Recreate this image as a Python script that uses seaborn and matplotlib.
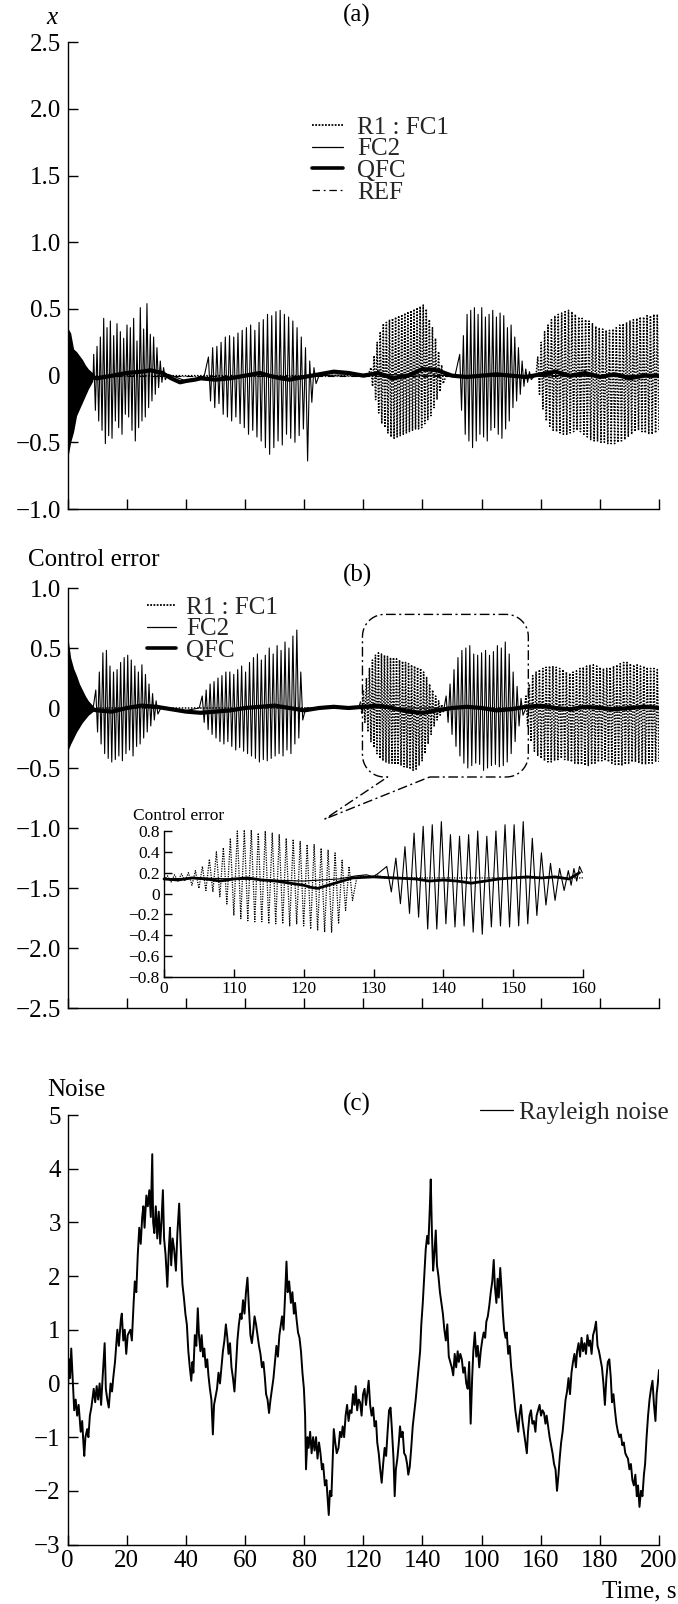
import numpy as np
import matplotlib
matplotlib.use("Agg")
import matplotlib.pyplot as plt
import seaborn as sns
from matplotlib.lines import Line2D

sns.set_theme(style="ticks")
plt.rcParams["font.family"] = ["Liberation Serif", "DejaVu Serif"]
plt.rcParams["mathtext.fontset"] = "stix"

# ---------------- data: panel (a) displacement x ----------------
a_trans_t = [0, 1, 2, 3, 4, 5, 6, 7, 8.5]
a_trans_up = [0.36, 0.32, 0.2, 0.18, 0.15, 0.12, 0.08, 0.05, 0.02]
a_trans_lo = [-0.62, -0.5, -0.42, -0.3, -0.25, -0.2, -0.15, -0.1, -0.04]

a_fc2_b1_up = [0.16, 0.22, 0.29, 0.43, 0.36, 0.41, 0.3, 0.39, 0.33, 0.28, 0.38, 0.36, 0.43, 0.26, 0.51, 0.35, 0.54, 0.31, 0.29, 0.21, 0.11, 0.06]
a_fc2_b1_lo = [-0.26, -0.34, -0.41, -0.51, -0.45, -0.47, -0.34, -0.39, -0.44, -0.29, -0.31, -0.41, -0.49, -0.39, -0.34, -0.31, -0.24, -0.19, -0.14, -0.09, -0.05, -0.03]
a_fc2_b2_up = [0.14, 0.21, 0.22, 0.25, 0.29, 0.30, 0.29, 0.32, 0.34, 0.36, 0.38, 0.34, 0.40, 0.42, 0.46, 0.45, 0.48, 0.49, 0.46, 0.44, 0.41, 0.36, 0.29, 0.21, 0.11, 0.06]
a_fc2_b2_lo = [-0.19, -0.24, -0.21, -0.29, -0.31, -0.34, -0.31, -0.36, -0.39, -0.44, -0.41, -0.46, -0.49, -0.54, -0.59, -0.54, -0.49, -0.52, -0.44, -0.47, -0.50, -0.45, -0.40, -0.64, -0.20, -0.06]
a_fc2_b3_up = [0.16, 0.30, 0.46, 0.49, 0.51, 0.46, 0.51, 0.44, 0.46, 0.49, 0.44, 0.47, 0.45, 0.36, 0.38, 0.29, 0.21, 0.11, 0.05, 0.03]
a_fc2_b3_lo = [-0.26, -0.44, -0.49, -0.54, -0.49, -0.44, -0.46, -0.49, -0.41, -0.39, -0.44, -0.47, -0.40, -0.34, -0.24, -0.19, -0.14, -0.08, -0.05, -0.03]
a_fc1_b1_up = [0.06, 0.15, 0.25, 0.33, 0.39, 0.40, 0.42, 0.43, 0.44, 0.45, 0.46, 0.47, 0.48, 0.49, 0.50, 0.51, 0.52, 0.53, 0.50, 0.42, 0.36, 0.28, 0.18, 0.08]
a_fc1_b1_lo = [-0.08, -0.18, -0.28, -0.36, -0.39, -0.43, -0.46, -0.47, -0.46, -0.45, -0.44, -0.43, -0.42, -0.41, -0.40, -0.40, -0.39, -0.36, -0.33, -0.30, -0.24, -0.18, -0.12, -0.06]
a_fc1_b2_up = [0.14, 0.25, 0.33, 0.38, 0.42, 0.45, 0.46, 0.47, 0.48, 0.49, 0.48, 0.46, 0.44, 0.43, 0.42, 0.41, 0.39, 0.37, 0.36, 0.35, 0.34, 0.34, 0.35, 0.36, 0.38, 0.39, 0.40, 0.41, 0.42, 0.43, 0.44, 0.44, 0.45, 0.45, 0.46, 0.46]
a_fc1_b2_lo = [-0.14, -0.25, -0.34, -0.38, -0.41, -0.42, -0.43, -0.44, -0.44, -0.43, -0.42, -0.41, -0.42, -0.44, -0.46, -0.48, -0.49, -0.49, -0.50, -0.50, -0.51, -0.51, -0.51, -0.50, -0.49, -0.48, -0.46, -0.44, -0.42, -0.41, -0.42, -0.43, -0.44, -0.44, -0.43, -0.42]
a_qfc_t = [0, 5, 10, 15, 20, 25, 28, 32, 35, 38, 40, 43, 45, 50, 55, 60, 65, 68, 72, 75, 80, 85, 90, 95, 100, 105, 110, 115, 120, 125, 130, 135, 140, 145, 150, 155, 160, 165, 170, 175, 180, 185, 190, 195, 200]
a_qfc_v = [0.0, 0.0, -0.02, 0.0, 0.02, 0.03, 0.04, 0.02, -0.02, -0.05, -0.04, -0.03, -0.02, -0.03, -0.02, 0.0, 0.02, 0.0, -0.02, -0.03, -0.01, 0.01, 0.03, 0.02, 0.0, 0.02, -0.02, 0.0, 0.05, 0.04, 0.0, -0.01, 0.0, 0.01, 0.0, -0.01, 0.01, 0.03, 0.0, 0.02, -0.01, 0.01, -0.02, 0.0, 0.0]
a_ref_t = [0, 200]
a_ref_v = [0.0, 0.0]

# ---------------- data: panel (b) control error ----------------
b_trans_t = [0, 1, 2, 3, 4, 5, 6, 7, 8.5]
b_trans_up = [0.6, 0.42, 0.33, 0.27, 0.2, 0.15, 0.1, 0.06, 0.02]
b_trans_lo = [-0.36, -0.3, -0.25, -0.2, -0.16, -0.12, -0.09, -0.06, -0.03]

b_fc2_b1_up = [0.15, 0.3, 0.46, 0.48, 0.35, 0.3, 0.32, 0.38, 0.42, 0.44, 0.4, 0.35, 0.3, 0.36, 0.28, 0.2, 0.12, 0.06]
b_fc2_b1_lo = [-0.2, -0.3, -0.38, -0.42, -0.45, -0.43, -0.4, -0.44, -0.38, -0.35, -0.4, -0.32, -0.3, -0.25, -0.2, -0.15, -0.1, -0.05]
b_fc2_b2_up = [0.1, 0.15, 0.2, 0.22, 0.25, 0.27, 0.3, 0.3, 0.28, 0.32, 0.35, 0.3, 0.38, 0.42, 0.45, 0.4, 0.44, 0.5, 0.45, 0.52, 0.48, 0.55, 0.5, 0.6, 0.65, 0.3]
b_fc2_b2_lo = [-0.12, -0.18, -0.22, -0.25, -0.28, -0.3, -0.28, -0.32, -0.35, -0.33, -0.36, -0.38, -0.4, -0.42, -0.45, -0.43, -0.44, -0.42, -0.4, -0.38, -0.4, -0.35, -0.38, -0.3, -0.25, -0.1]
b_fc2_b3_up = [0.1, 0.2, 0.32, 0.42, 0.48, 0.5, 0.52, 0.45, 0.44, 0.46, 0.48, 0.44, 0.47, 0.52, 0.5, 0.55, 0.45, 0.3, 0.18, 0.08]
b_fc2_b3_lo = [-0.12, -0.22, -0.32, -0.4, -0.46, -0.5, -0.48, -0.46, -0.47, -0.52, -0.5, -0.48, -0.47, -0.49, -0.48, -0.45, -0.38, -0.28, -0.15, -0.06]
b_fc1_b1_up = [0.05, 0.15, 0.25, 0.33, 0.4, 0.44, 0.46, 0.45, 0.44, 0.43, 0.42, 0.42, 0.41, 0.4, 0.39, 0.38, 0.37, 0.36, 0.35, 0.34, 0.33, 0.3, 0.26, 0.2, 0.15, 0.1, 0.06, 0.03]
b_fc1_b1_lo = [-0.05, -0.12, -0.2, -0.28, -0.33, -0.38, -0.42, -0.44, -0.45, -0.46, -0.46, -0.47, -0.47, -0.48, -0.49, -0.5, -0.51, -0.52, -0.51, -0.48, -0.44, -0.38, -0.3, -0.22, -0.15, -0.1, -0.06, -0.03]
b_fc1_b2_up = [0.1, 0.2, 0.27, 0.3, 0.32, 0.33, 0.34, 0.35, 0.35, 0.34, 0.33, 0.32, 0.3, 0.29, 0.3, 0.31, 0.33, 0.34, 0.35, 0.36, 0.36, 0.35, 0.34, 0.33, 0.33, 0.34, 0.35, 0.36, 0.37, 0.38, 0.38, 0.37, 0.36, 0.36, 0.35, 0.35, 0.34, 0.33, 0.33, 0.32]
b_fc1_b2_lo = [-0.15, -0.28, -0.36, -0.4, -0.42, -0.44, -0.45, -0.45, -0.44, -0.43, -0.42, -0.43, -0.44, -0.45, -0.46, -0.47, -0.47, -0.48, -0.48, -0.47, -0.46, -0.45, -0.44, -0.44, -0.45, -0.46, -0.47, -0.48, -0.48, -0.47, -0.46, -0.45, -0.45, -0.46, -0.47, -0.47, -0.46, -0.46, -0.45, -0.45]
b_qfc_t = [0, 5, 10, 15, 20, 25, 30, 35, 40, 45, 50, 55, 60, 65, 70, 75, 80, 85, 90, 95, 100, 105, 110, 115, 120, 125, 130, 135, 140, 145, 150, 155, 160, 165, 170, 175, 180, 185, 190, 195, 200]
b_qfc_v = [0.0, 0.0, -0.02, -0.03, 0.0, 0.02, 0.01, -0.01, -0.03, -0.04, -0.03, -0.02, 0.0, 0.01, 0.02, 0.0, -0.02, 0.0, 0.01, 0.0, 0.01, 0.02, 0.0, -0.03, -0.04, -0.02, 0.0, 0.01, 0.0, -0.02, -0.01, 0.01, 0.02, 0.0, -0.01, 0.01, 0.0, -0.01, 0.0, 0.01, 0.0]

# ---------------- data: inset (zoom of 100..160 s) ----------------
in_fc1_pre_t = [100, 100.5, 101, 101.5, 102, 102.5, 103]
in_fc1_pre_v = [0.13, 0.17, 0.11, 0.18, 0.12, 0.19, 0.12]
in_fc1_up = [0.2, 0.22, 0.26, 0.33, 0.4, 0.44, 0.53, 0.6, 0.61, 0.61, 0.58, 0.6, 0.58, 0.565, 0.53, 0.52, 0.5, 0.47, 0.47, 0.435, 0.42, 0.39, 0.32, 0.26]
in_fc1_lo = [0.08, 0.05, 0.03, 0.016, -0.03, -0.1, -0.21, -0.24, -0.26, -0.27, -0.27, -0.29, -0.29, -0.29, -0.31, -0.29, -0.31, -0.34, -0.355, -0.37, -0.37, -0.29, -0.16, -0.065]
in_fc1_post_t = [127.6, 128.5, 129.5, 130.5, 131.5, 160]
in_fc1_post_v = [0.15, 0.17, 0.16, 0.18, 0.15, 0.15]
in_fc2_pre_t = [100, 105, 110, 115, 120, 125, 127.5, 129, 130, 130.8]
in_fc2_pre_v = [0.14, 0.15, 0.14, 0.13, 0.12, 0.14, 0.17, 0.18, 0.16, 0.2]
in_fc2_up = [0.26, 0.34, 0.45, 0.58, 0.645, 0.66, 0.69, 0.565, 0.55, 0.565, 0.60, 0.55, 0.60, 0.66, 0.66, 0.69, 0.53, 0.39, 0.29, 0.24]
in_fc2_lo = [0.016, -0.097, -0.19, -0.226, -0.34, -0.34, -0.29, -0.32, -0.31, -0.37, -0.39, -0.32, -0.31, -0.32, -0.31, -0.29, -0.21, -0.11, -0.065, 0.03]
in_fc2_post_t = [157.9, 158.3, 158.7, 159.1, 159.5, 159.9]
in_fc2_post_v = [0.22, 0.08, 0.24, 0.12, 0.26, 0.2]
in_qfc_t = [100, 102, 104, 106, 108, 110, 112, 114, 116, 118, 120, 121, 122, 123, 124, 125, 126, 127, 130, 133, 136, 138, 140, 142, 144, 146, 148, 150, 152, 154, 156, 158, 159.5]
in_qfc_v = [0.14, 0.13, 0.15, 0.14, 0.12, 0.14, 0.15, 0.13, 0.12, 0.10, 0.08, 0.06, 0.05, 0.07, 0.09, 0.11, 0.13, 0.15, 0.16, 0.15, 0.14, 0.12, 0.13, 0.12, 0.10, 0.12, 0.14, 0.15, 0.16, 0.15, 0.16, 0.14, 0.2]
in_yticks = [-0.8, -0.6, -0.4, -0.2, 0.0, 0.2, 0.4, 0.6]
in_yticklabels = ["\u22120.8", "\u22120.6", "\u22120.4", "\u22120.2", "0", "0.2", "0.4", "0.8"]
in_xticks = [100, 110, 120, 130, 140, 150, 160]
in_xticklabels = ["0", "110", "120", "130", "140", "150", "160"]

# ---------------- data: panel (c) Rayleigh noise ----------------
noise_points = [
    (0.0, -0.2), (0.5, 0.45), (0.8, 0.1), (1.2, 0.65), (1.6, 0.2), (2.2, -0.5), (2.7, -0.3), (3.2, -0.6), (3.7, -0.4),
    (4.4, -0.9), (4.9, -0.7), (5.3, -1.1), (5.6, -1.35), (6.0, -1.0), (6.6, -0.85), (7.0, -1.0), (7.5, -0.6), (8.0, -0.45),
    (8.8, -0.1), (9.3, -0.35), (9.8, -0.05), (10.3, -0.3), (10.8, 0.0), (11.3, -0.4), (11.8, 0.1), (12.5, 0.75), (12.9, -0.1),
    (13.4, -0.3), (13.9, -0.45), (14.5, 0.0), (15.0, -0.15), (15.4, 0.1), (16.0, 0.4), (16.8, 1.0), (17.3, 0.7), (18.0, 1.2),
    (18.3, 1.3), (18.8, 0.8), (19.3, 1.0), (19.8, 0.55), (20.3, 0.9), (21.2, 1.0), (21.7, 0.8), (22.3, 1.5), (22.7, 1.9),
    (23.2, 1.7), (23.7, 2.4), (24.2, 2.9), (24.7, 2.6), (25.2, 3.1), (25.6, 3.3), (26.0, 2.9), (26.6, 3.5), (27.1, 3.3),
    (27.6, 3.6), (28.1, 3.1), (28.6, 4.27), (28.9, 3.0), (29.3, 2.8), (29.8, 3.3), (30.3, 2.7), (30.8, 3.2), (31.3, 2.6),
    (31.7, 3.0), (32.2, 3.6), (32.6, 2.7), (33.1, 2.4), (33.7, 1.8), (34.2, 2.5), (34.6, 2.9), (35.0, 2.2), (35.5, 2.7),
    (36.0, 2.5), (36.6, 2.1), (37.1, 2.8), (37.7, 3.35), (38.2, 2.6), (38.8, 1.85), (39.3, 1.6), (39.8, 1.3), (40.3, 1.1),
    (40.8, 0.6), (41.3, 0.3), (41.8, 0.05), (42.2, 0.4), (42.5, 0.2), (43.0, 0.9), (43.5, 0.7), (44.0, 1.4), (44.4, 0.9),
    (44.9, 0.6), (45.3, 0.9), (45.8, 0.5), (46.2, 0.65), (46.7, 0.3), (47.2, 0.45), (47.6, 0.15), (48.1, -0.1), (48.6, -0.3),
    (49.1, -0.95), (49.5, -0.4), (50.0, -0.25), (50.5, -0.1), (51.0, 0.2), (51.5, 0.0), (52.0, 0.3), (52.5, 0.6), (53.0, 0.8),
    (53.5, 1.1), (54.0, 0.85), (54.4, 0.55), (54.9, 0.75), (55.4, 0.3), (55.9, 0.1), (56.4, -0.15), (56.9, 0.3), (57.4, 0.8),
    (57.9, 1.1), (58.4, 1.3), (58.8, 1.2), (59.3, 1.55), (59.8, 1.3), (60.3, 1.7), (60.8, 1.97), (61.3, 1.4), (61.8, 0.9),
    (62.3, 0.75), (62.8, 1.0), (63.2, 1.25), (63.7, 1.1), (64.2, 0.9), (64.7, 0.7), (65.2, 0.55), (65.7, 0.3), (66.2, 0.4),
    (66.7, 0.1), (67.1, -0.2), (67.6, -0.3), (68.1, -0.55), (68.6, -0.3), (69.1, -0.1), (69.6, 0.1), (70.1, 0.4), (70.6, 0.7),
    (71.1, 0.5), (71.6, 0.9), (72.1, 1.1), (72.5, 1.25), (73.0, 1.0), (73.5, 1.6), (74.0, 2.27), (74.4, 1.7), (74.9, 1.9),
    (75.5, 1.5), (76.0, 1.7), (76.5, 1.3), (76.9, 1.5), (77.4, 1.2), (77.9, 0.95), (78.4, 0.85), (78.9, 0.6), (79.4, 0.2),
    (79.9, -0.1), (80.3, -0.6), (80.6, -1.6), (81.1, -1.0), (81.5, -1.2), (82.0, -0.9), (82.5, -1.3), (83.0, -1.0),
    (83.5, -1.25), (84.0, -1.0), (84.5, -1.4), (85.0, -1.1), (85.5, -1.3), (86.0, -1.6), (86.4, -1.5), (87.0, -1.9),
    (87.5, -1.8), (88.0, -2.2), (88.3, -2.45), (88.7, -2.0), (89.2, -2.1), (89.6, -1.5), (90.0, -0.85), (90.5, -1.1),
    (91.0, -1.3), (91.6, -1.2), (92.1, -0.9), (92.6, -1.0), (93.0, -0.8), (93.5, -1.0), (94.0, -0.6), (94.5, -0.4),
    (95.0, -0.7), (95.5, -0.5), (96.0, -0.55), (96.5, -0.2), (97.0, -0.4), (97.4, -0.05), (97.9, -0.5), (98.4, -0.3),
    (98.9, -0.35), (99.4, -0.6), (99.9, -0.2), (100.4, -0.1), (100.9, -0.4), (101.4, -0.15), (101.8, 0.05), (102.3, -0.4),
    (102.8, -0.6), (103.3, -0.45), (103.8, -0.8), (104.3, -0.7), (104.7, -1.1), (105.2, -1.3), (105.7, -1.6), (106.2, -1.85),
    (106.7, -1.5), (107.2, -1.2), (107.7, -1.35), (108.2, -0.9), (108.7, -0.5), (109.2, -0.45), (109.7, -0.9), (110.2, -1.4),
    (110.6, -2.1), (111.0, -1.6), (111.5, -1.4), (112.0, -1.1), (112.4, -0.8), (112.8, -1.0), (113.3, -0.9), (113.8, -1.3),
    (114.3, -1.35), (114.8, -1.5), (115.2, -1.7), (115.7, -1.55), (116.2, -1.2), (116.7, -0.8), (117.2, -0.55), (117.7, -0.3),
    (118.2, 0.0), (118.7, 0.3), (119.2, 0.6), (119.6, 1.1), (120.1, 1.5), (120.6, 2.0), (121.1, 2.5), (121.6, 2.75),
    (122.0, 2.6), (122.5, 3.3), (122.8, 3.8), (123.2, 2.8), (123.6, 2.1), (124.0, 2.4), (124.5, 2.85), (124.9, 2.2),
    (125.4, 2.0), (125.9, 1.7), (126.4, 1.5), (126.9, 1.3), (127.4, 1.0), (127.9, 0.8), (128.4, 1.1), (128.9, 0.5),
    (129.4, 0.4), (129.9, 0.3), (130.4, 0.15), (130.9, 0.55), (131.4, 0.3), (131.9, 0.6), (132.3, 0.4), (132.8, 0.55),
    (133.3, 0.45), (133.8, 0.2), (134.3, 0.3), (134.8, 0.0), (135.3, -0.1), (135.8, 0.4), (136.3, -0.75), (136.8, 0.1),
    (137.2, 0.6), (137.7, 0.95), (138.2, 0.5), (138.7, 0.7), (139.2, 0.3), (139.7, 0.6), (140.2, 0.8), (140.7, 0.95),
    (141.2, 0.85), (141.6, 1.15), (142.1, 1.25), (142.6, 1.45), (143.1, 1.7), (143.6, 1.9), (144.1, 2.3), (144.5, 1.8),
    (145.0, 1.5), (145.4, 1.95), (145.8, 1.6), (146.3, 2.15), (146.7, 1.8), (147.2, 1.3), (147.6, 1.0), (148.1, 0.85),
    (148.5, 0.95), (149.0, 0.55), (149.5, 0.7), (150.0, 0.3), (150.4, 0.1), (150.9, -0.2), (151.4, -0.5), (151.9, -0.7),
    (152.4, -0.9), (152.8, -0.6), (153.3, -0.4), (153.8, -0.7), (154.3, -0.9), (154.8, -1.1), (155.3, -1.3), (155.7, -0.9),
    (156.2, -0.6), (156.7, -0.5), (157.2, -0.75), (157.7, -0.7), (158.2, -0.9), (158.6, -0.6), (159.1, -0.5), (159.6, -0.4),
    (160.1, -0.6), (160.6, -0.5), (161.1, -0.55), (161.6, -0.75), (162.0, -0.6), (162.5, -0.8), (163.0, -1.0), (163.5, -1.15),
    (164.0, -1.3), (164.5, -1.5), (165.0, -1.6), (165.5, -2.0), (166.0, -1.7), (166.4, -1.4), (166.9, -1.1), (167.4, -0.9),
    (167.9, -0.6), (168.4, -0.3), (168.9, -0.15), (169.4, 0.1), (169.9, -0.2), (170.4, 0.2), (170.9, 0.4), (171.4, 0.55),
    (171.9, 0.3), (172.3, 0.6), (172.8, 0.75), (173.3, 0.5), (173.8, 0.85), (174.3, 0.6), (174.8, 0.75), (175.3, 0.55),
    (175.8, 0.9), (176.3, 0.7), (176.7, 0.8), (177.2, 0.55), (177.7, 0.9), (178.2, 1.0), (178.7, 1.15), (179.2, 0.7),
    (179.7, 0.6), (180.2, 0.45), (180.7, 0.3), (181.2, 0.0), (181.7, -0.4), (182.2, 0.1), (182.7, 0.4), (183.2, 0.45),
    (183.7, 0.1), (184.1, -0.35), (184.6, -0.2), (185.1, -0.5), (185.6, -0.75), (186.1, -0.9), (186.6, -1.0), (187.1, -0.95),
    (187.6, -1.15), (188.1, -1.1), (188.6, -1.3), (189.0, -1.35), (189.5, -1.4), (190.0, -1.6), (190.5, -1.5), (191.0, -1.8),
    (191.5, -1.9), (192.0, -1.7), (192.5, -2.1), (192.9, -1.9), (193.4, -2.3), (193.9, -2.0), (194.4, -2.1), (194.9, -1.7),
    (195.3, -1.5), (195.8, -1.0), (196.3, -0.6), (196.8, -0.3), (197.3, -0.1), (197.8, 0.05), (198.3, -0.4), (198.8, -0.7),
    (199.2, -0.2), (199.6, 0.0), (200.0, 0.25),
]
c_xticks = [0, 20, 40, 60, 80, 100, 120, 140, 160, 180, 200]
c_xticklabels = ["0", "20", "40", "60", "80", "120", "140", "100", "160", "180", "200"]

a_yticks = [-1.0, -0.5, 0.0, 0.5, 1.0, 1.5, 2.0, 2.5]
a_yticklabels = ["\u22121.0", "\u22120.5", "0", "0.5", "1.0", "1.5", "2.0", "2.5"]
b_yticks = [-2.5, -2.0, -1.5, -1.0, -0.5, 0.0, 0.5, 1.0]
b_yticklabels = ["\u22122.5", "\u22122.0", "\u22121.5", "\u22121.0", "\u22120.5", "0", "0.5", "1.0"]
c_yticks = [-3, -2, -1, 0, 1, 2, 3, 4, 5]
c_yticklabels = ["\u22123", "\u22122", "\u22121", "0", "1", "2", "3", "4", "5"]


# ---------------- helpers ----------------
def zig(t0, t1, ups, lows):
    n = len(ups)
    t = np.linspace(t0, t1, 2 * n)
    y = np.empty(2 * n)
    y[0::2] = ups
    y[1::2] = lows
    return t, y


def pts(ts, vs):
    return np.asarray(ts, float), np.asarray(vs, float)


def join(*segs):
    return np.concatenate([s[0] for s in segs]), np.concatenate([s[1] for s in segs])


def line(ax, t, y, **kw):
    sns.lineplot(x=np.asarray(t), y=np.asarray(y), ax=ax, color="black",
                 estimator=None, sort=False, **kw)


FW, FH = 678, 1604


def rect(l, t, r, b):
    return [l / FW, 1 - b / FH, (r - l) / FW, (b - t) / FH]


fig = plt.figure(figsize=(FW / 100, FH / 100), dpi=100)
fig.patch.set_facecolor("white")

ax_a = fig.add_axes(rect(67.7, 42.3, 659, 509))
ax_b = fig.add_axes(rect(67.7, 588, 659, 1008))
ax_c = fig.add_axes(rect(67.7, 1115, 659, 1544.5))
ax_in = fig.add_axes(rect(164, 831, 583, 977))

FS = 18
thin = 0.8
dot_ls = (0, (1.0, 1.0))

for ax in (ax_a, ax_b, ax_c, ax_in):
    ax.set_facecolor("none")
    for s in ("top", "right"):
        ax.spines[s].set_visible(False)
    for s in ("left", "bottom"):
        ax.spines[s].set_linewidth(1.0)
        ax.spines[s].set_color("black")
    ax.grid(False)

# ---------- panel (a) ----------
ax = ax_a
ax.fill_between(a_trans_t, a_trans_lo, a_trans_up, color="black", lw=0)
fc2_a = join(pts([8.6], [0.0]), zig(8.8, 33, a_fc2_b1_up, a_fc2_b1_lo),
             pts([34, 40, 46], [0.01, -0.04, -0.02]), zig(47.6, 84, a_fc2_b2_up, a_fc2_b2_lo),
             pts([85, 100, 131], [0.0, 0.01, 0.0]), zig(132.6, 156.8, a_fc2_b3_up, a_fc2_b3_lo),
             pts([158, 200], [0.0, 0.0]))
fc1_a = join(pts([8.6, 60, 101.5], [0.0, 0.0, 0.0]), zig(102.6, 127, a_fc1_b1_up, a_fc1_b1_lo),
             pts([128, 150, 158.4], [0.0, 0.0, 0.0]), zig(159, 200, a_fc1_b2_up, a_fc1_b2_lo))
line(ax, *fc2_a, linewidth=thin)
line(ax, *fc1_a, linewidth=1.1, linestyle=dot_ls)
line(ax, a_ref_t, a_ref_v, linewidth=thin, linestyle="-.")
line(ax, a_qfc_t, a_qfc_v, linewidth=3.0)
ax.set_xlim(0, 200)
ax.set_ylim(-1.0, 2.5)
ax.set_yticks(a_yticks)
ax.set_yticklabels(a_yticklabels)
ax.set_xticks(c_xticks)
ax.set_xticklabels([])

# ---------- panel (b) ----------
ax = ax_b
ax.fill_between(b_trans_t, b_trans_lo, b_trans_up, color="black", lw=0)
fc2_b = join(pts([8.6], [0.0]), zig(9.5, 30.5, b_fc2_b1_up, b_fc2_b1_lo),
             pts([31.5, 38, 44.5], [0.0, -0.03, 0.0]), zig(45.5, 79.5, b_fc2_b2_up, b_fc2_b2_lo),
             pts([80.5, 100, 127.3], [0.0, 0.0, 0.0]), zig(128, 154, b_fc2_b3_up, b_fc2_b3_lo),
             pts([155, 200], [0.0, 0.0]))
fc1_b = join(pts([8.6, 60, 98.5], [0.0, 0.0, 0.0]), zig(99, 127, b_fc1_b1_up, b_fc1_b1_lo),
             pts([128, 145, 154.5], [0.0, 0.0, 0.0]), zig(155, 200, b_fc1_b2_up, b_fc1_b2_lo))
line(ax, *fc2_b, linewidth=thin)
line(ax, *fc1_b, linewidth=1.1, linestyle=dot_ls)
line(ax, b_qfc_t, b_qfc_v, linewidth=3.0)
ax.set_xlim(0, 200)
ax.set_ylim(-2.5, 1.0)
ax.set_yticks(b_yticks)
ax.set_yticklabels(b_yticklabels)
ax.set_xticks(c_xticks)
ax.set_xticklabels([])

# ---------- inset ----------
ax = ax_in
fc1_in = join(pts(in_fc1_pre_t, in_fc1_pre_v), zig(103.5, 127, in_fc1_up, in_fc1_lo),
              pts(in_fc1_post_t, in_fc1_post_v))
fc2_in = join(pts(in_fc2_pre_t, in_fc2_pre_v), zig(131.9, 157.3, in_fc2_up, in_fc2_lo),
              pts(in_fc2_post_t, in_fc2_post_v))
line(ax, *fc1_in, linewidth=0.9, linestyle=dot_ls, clip_on=False)
line(ax, *fc2_in, linewidth=0.8, clip_on=False)
line(ax, in_qfc_t, in_qfc_v, linewidth=2.0, clip_on=False)
ax.set_xlim(100, 160)
ax.set_ylim(-0.8, 0.6)
ax.set_yticks(in_yticks)
ax.set_yticklabels(in_yticklabels)
ax.set_xticks(in_xticks)
ax.set_xticklabels(in_xticklabels)
ax.tick_params(direction="in", length=6, width=1, labelsize=12.5, pad=3, colors="black")

# ---------- panel (c) ----------
ax = ax_c
noise_t, noise_v = zip(*noise_points)
line(ax, noise_t, noise_v, linewidth=1.4)
ax.set_xlim(0, 200)
ax.set_ylim(-3, 5)
ax.set_yticks(c_yticks)
ax.set_yticklabels(c_yticklabels)
ax.set_xticks(c_xticks)
ax.set_xticklabels(c_xticklabels)

for ax in (ax_a, ax_b, ax_c):
    ax.tick_params(direction="in", length=7, width=1, labelsize=FS, pad=5, colors="black")
ax_c.tick_params(axis="x", pad=4)

# ---------- legends ----------
def legend(ax, handles, labels, x_px, y_px, hl, tp):
    lg = ax.legend(handles, labels, loc="upper left", bbox_to_anchor=(x_px / FW, 1 - y_px / FH),
                   bbox_transform=fig.transFigure, frameon=False, fontsize=FS,
                   handlelength=hl, handletextpad=tp, labelspacing=-0.03,
                   borderpad=0, borderaxespad=0)
    return lg

h_fc1 = Line2D([], [], color="black", lw=1.3, linestyle=(0, (1.0, 0.8)))
h_fc2 = Line2D([], [], color="black", lw=0.9)
h_qfc = Line2D([], [], color="black", lw=2.6)
h_ref = Line2D([], [], color="black", lw=0.9, linestyle=(0, (6, 3, 1.5, 3)))
legend(ax_a, [h_fc1, h_fc2, h_qfc, h_ref], ["R1 : FC1", "FC2", "QFC", "REF"], 312, 116, 1.25, 0.55)
legend(ax_b, [h_fc1, h_fc2, h_qfc], ["R1 : FC1", "FC2", "QFC"], 147, 596, 1.15, 0.42)
legend(ax_c, [Line2D([], [], color="black", lw=0.9)], ["Rayleigh noise"], 480, 1101, 1.3, 0.25)

# ---------- callout (zoom region marker in panel b) ----------
call_box_t = (99.7, 155.8)
call_box_v = (-0.575, 0.78)
call_base_t = (108.2, 122.4)
call_tip = (87.0, -0.925)
R_PX = 22.0


def callout(ax):
    P = ax.transData.transform
    X0, Yb = P((call_box_t[0], call_box_v[0]))
    X1, Yt = P((call_box_t[1], call_box_v[1]))
    B0 = P((call_base_t[0], call_box_v[0]))[0]
    B1 = P((call_base_t[1], call_box_v[0]))[0]
    Tx, Ty = P(call_tip)
    r = R_PX

    def arc(cx, cy, a0, a1):
        a = np.radians(np.linspace(a0, a1, 12))
        return list(zip(cx + r * np.cos(a), cy + r * np.sin(a)))

    path = [(B1, Yb)]
    path += arc(X1 - r, Yb + r, -90, 0)
    path += arc(X1 - r, Yt - r, 0, 90)
    path += arc(X0 + r, Yt - r, 90, 180)
    path += arc(X0 + r, Yb + r, 180, 270)
    path += [(B0, Yb), (Tx, Ty), (B1, Yb)]
    data = ax.transData.inverted().transform(np.array(path))
    ax.plot(data[:, 0], data[:, 1], color="black", lw=1.0,
            linestyle=(0, (7, 2.5, 1.5, 2.5)), clip_on=False)


callout(ax_b)

# ---------- text labels ----------
def ftext(x_px, y_px, s, **kw):
    fig.text(x_px / FW, 1 - y_px / FH, s, fontsize=FS, color="black", **kw)

ftext(52, 18, "x", ha="center", va="center", style="italic")
ftext(357, 15, "(a)", ha="center", va="center")
ftext(28, 560, "Control error", ha="left", va="center")
ftext(357, 575, "(b)", ha="center", va="center")
ftext(47, 1090, "Noise", ha="left", va="center")
ftext(357, 1104, "(c)", ha="center", va="center")
ftext(677, 1591, "Time, s", ha="right", va="center")
fig.text(133 / FW, 1 - 816 / FH, "Control error", fontsize=12.5, ha="left", va="center", color="black")

fig.savefig("out.png", dpi=100, facecolor="white")
